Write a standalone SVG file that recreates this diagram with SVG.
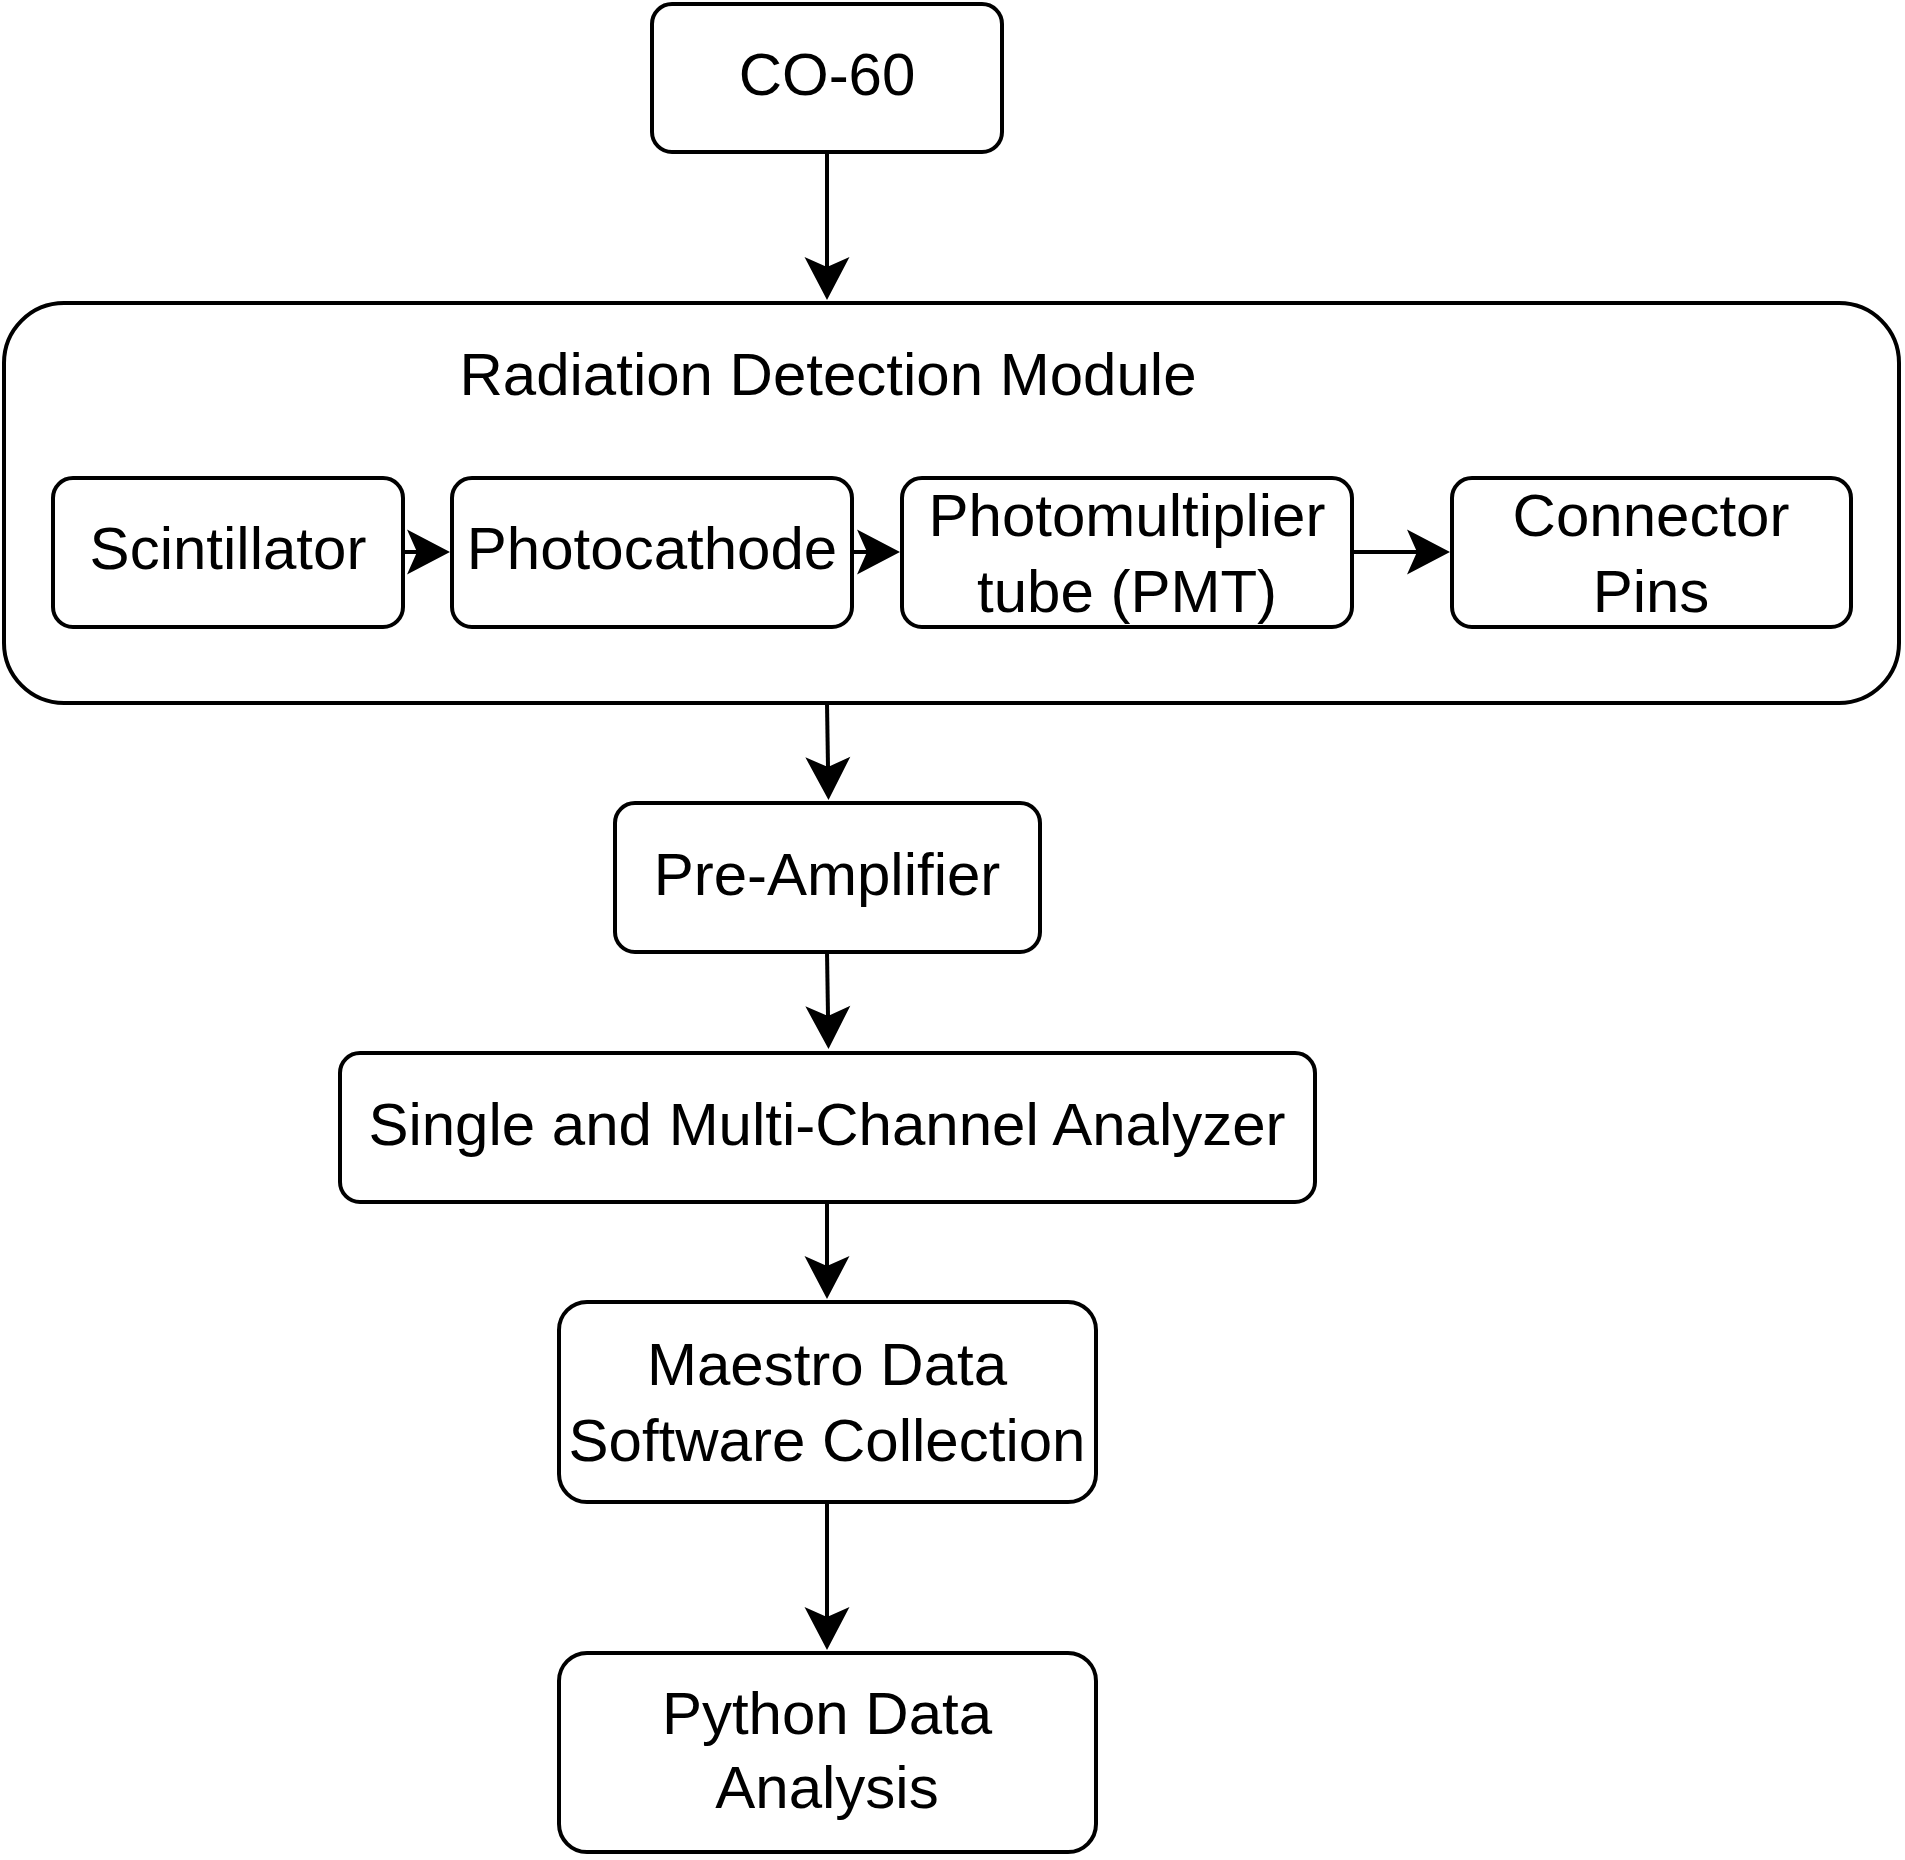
<svg xmlns="http://www.w3.org/2000/svg" width="1905" height="1860" viewBox="0 0 1905 1860">
  <style>
    .box { fill: #ffffff; stroke: #000000; stroke-width: 4; }
    .lbl { font-family: "Liberation Sans", Arial, Helvetica, sans-serif; font-size: 60px; fill: #000000; text-anchor: middle; }
    .edge { fill: none; stroke: #000000; stroke-width: 4; marker-end: url(#arrow); }
  </style>
  <defs>
    <marker id="arrow" markerUnits="userSpaceOnUse" markerWidth="60" markerHeight="60" viewBox="-15 -30 60 60" refX="0" refY="0" orient="auto" overflow="visible">
      <path d="M33,0 L-10,-22.5 L0,0 L-10,22.5 Z" fill="#000000"/>
    </marker>
  </defs>
  <rect x="0" y="0" width="1905" height="1860" fill="#ffffff"/>

  <g id="co60">
    <rect class="box" x="652" y="4" width="350" height="148" rx="20" ry="20"/>
    <text class="lbl" x="827" y="95">CO-60</text>
  </g>

  <g id="radiation-detection-module">
    <rect class="box" x="4" y="303" width="1895" height="400" rx="60" ry="60"/>
    <text class="lbl" x="828" y="395">Radiation Detection Module</text>
  </g>

  <g id="scintillator">
    <rect class="box" x="53" y="478" width="350" height="149" rx="20" ry="20"/>
    <text class="lbl" x="228" y="569">Scintillator</text>
  </g>

  <g id="photocathode">
    <rect class="box" x="452" y="478" width="400" height="149" rx="20" ry="20"/>
    <text class="lbl" x="652" y="569">Photocathode</text>
  </g>

  <g id="pmt">
    <rect class="box" x="902" y="478" width="450" height="149" rx="20" ry="20"/>
    <text class="lbl" x="1127" y="536">Photomultiplier</text>
    <text class="lbl" x="1127" y="612">tube (PMT)</text>
  </g>

  <g id="connector-pins">
    <rect class="box" x="1452" y="478" width="399" height="149" rx="20" ry="20"/>
    <text class="lbl" x="1651" y="536">Connector</text>
    <text class="lbl" x="1651" y="612">Pins</text>
  </g>

  <g id="pre-amplifier">
    <rect class="box" x="615" y="803" width="425" height="149" rx="20" ry="20"/>
    <text class="lbl" x="827" y="895">Pre-Amplifier</text>
  </g>

  <g id="analyzer">
    <rect class="box" x="340" y="1053" width="975" height="149" rx="20" ry="20"/>
    <text class="lbl" x="827" y="1145">Single and Multi-Channel Analyzer</text>
  </g>

  <g id="maestro">
    <rect class="box" x="559" y="1302" width="537" height="200" rx="28" ry="28"/>
    <text class="lbl" x="827" y="1385">Maestro Data</text>
    <text class="lbl" x="827" y="1461">Software Collection</text>
  </g>

  <g id="python">
    <rect class="box" x="559" y="1653" width="537" height="199" rx="28" ry="28"/>
    <text class="lbl" x="827" y="1734">Python Data</text>
    <text class="lbl" x="827" y="1808">Analysis</text>
  </g>

  <g id="connectors">
    <path class="edge" d="M827,152 L827,267"/>
    <path class="edge" d="M403,552 L417,552"/>
    <path class="edge" d="M852,552 L867,552"/>
    <path class="edge" d="M1352,552 L1417,552"/>
    <path class="edge" d="M827,703 L828,767"/>
    <path class="edge" d="M827,952 L828,1016"/>
    <path class="edge" d="M827,1202 L827,1266"/>
    <path class="edge" d="M827,1502 L827,1617"/>
  </g>
</svg>
